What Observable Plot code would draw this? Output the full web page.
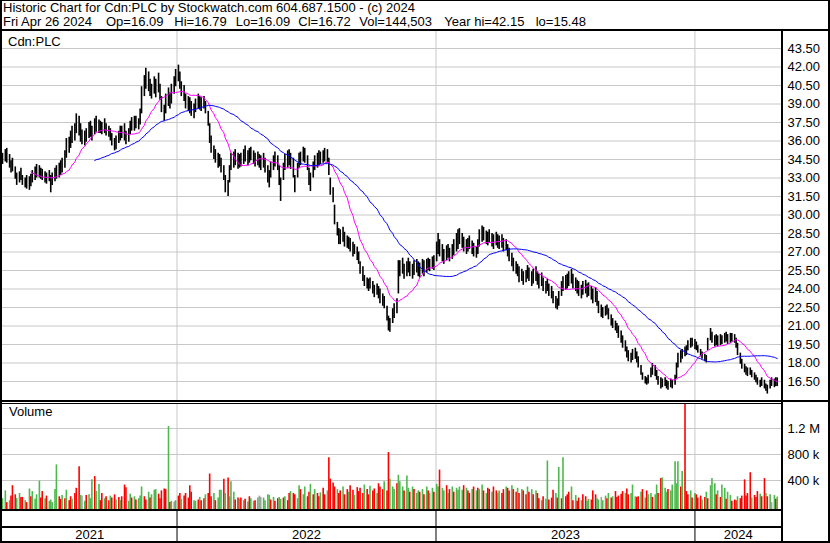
<!DOCTYPE html>
<html><head><meta charset="utf-8">
<script src="https://cdn.jsdelivr.net/npm/d3@7"></script>
<script src="https://cdn.jsdelivr.net/npm/@observablehq/plot@0.6"></script>
<style>
html,body{margin:0;padding:0;background:#fff;}
#wrap{position:relative;width:830px;height:543px;overflow:hidden;background:#fff;font-family:"Liberation Sans",Arial,sans-serif;color:#000;}
.ln{position:absolute;background:#000;}
.t{position:absolute;font-size:13px;line-height:14px;white-space:pre;color:#000;}
.panel{position:absolute;}
.panel svg{display:block;background:transparent;}
</style></head><body>
<div id="wrap">
  <div id="price" class="panel" style="left:2px;top:31px;"></div>
  <div id="vol" class="panel" style="left:2px;top:404px;"></div>
  <div id="years" class="panel" style="left:2px;top:511px;"></div>
  <div id="head"></div>
  <div class="t" id="sym" style="left:8px;top:34.5px;"></div>
  <div class="t" style="left:9px;top:405px;">Volume</div>
  <div class="ln" style="left:0;top:0;width:830px;height:1px"></div>
  <div class="ln" style="left:0;top:541px;width:830px;height:2px"></div>
  <div class="ln" style="left:0;top:0;width:2px;height:543px"></div>
  <div class="ln" style="left:828px;top:0;width:2px;height:543px"></div>
  <div class="ln" style="left:0;top:29px;width:830px;height:2px"></div>
  <div class="ln" style="left:781px;top:29px;width:2px;height:514px"></div>
  <div class="ln" style="left:0;top:400px;width:830px;height:2px"></div>
  <div class="ln" style="left:0;top:403px;width:781px;height:1px"></div>
  <div class="ln" style="left:0;top:509px;width:781px;height:2px"></div>
  <div class="ln" style="left:0;top:526px;width:781px;height:2px"></div>
</div>
<script>
// ---------- header facts ----------
const symbol = "Cdn:PLC";
const titleText = `Historic Chart for ${symbol} by Stockwatch.com 604.687.1500 - (c) 2024`;
const statLabels = ["Fri Apr 26 2024", "Op=16.09", "Hi=16.79", "Lo=16.09", "Cl=16.72", "Vol=144,503", "Year hi=42.15", "lo=15.48"];

// ---------- axis / calendar ----------
const END_DATE = new Date("2024-04-26");
const X_DOMAIN = [new Date("2021-04-30"), new Date("2024-05-02")];
const yearStarts = [new Date("2022-01-01"), new Date("2023-01-01"), new Date("2024-01-01")];
const yearLabels = ["2021", "2022", "2023", "2024"];
const priceTicks = [16.5, 18, 19.5, 21, 22.5, 24, 25.5, 27, 28.5, 30, 31.5, 33, 34.5, 36, 37.5, 39, 40.5, 42, 43.5];
const volTicks = [400000, 800000, 1200000];
const volTickLabels = ["400 k", "800 k", "1.2 M"];

// ---------- price bars: one bar per two trading days (low / high) ----------
const low = [
34.1,34.3,34.2,33.8,33.4,33.5,32.9,32.4,32.6,32.8,
32.4,32.2,32.1,32.0,32.3,32.6,32.8,33.0,33.0,32.9,
32.8,32.6,32.5,32.7,31.8,32.4,32.7,32.9,33.0,33.2,
33.4,33.8,34.6,35.0,35.4,35.8,36.0,36.6,36.4,35.9,
35.7,35.6,35.9,36.2,36.3,36.0,36.5,36.7,36.6,36.6,
36.5,36.6,36.4,36.3,36.0,35.6,35.2,35.3,35.8,36.0,
36.2,36.0,35.7,35.9,36.5,36.8,36.8,37.0,36.9,37.3,
38.2,39.6,40.2,40.0,39.6,39.4,39.8,39.5,39.9,39.3,
38.3,37.6,38.2,38.8,38.6,39.0,39.8,40.4,40.8,40.2,
39.6,39.2,38.6,38.4,38.2,38.0,37.8,38.3,38.6,38.5,
38.4,38.6,38.2,37.2,35.8,35.0,34.5,34.2,33.8,33.9,
33.4,32.8,31.8,31.5,32.6,33.6,33.8,34.0,33.7,33.8,
33.9,34.1,34.3,34.0,34.2,34.4,34.1,33.9,34.0,33.8,
33.6,33.8,33.4,32.6,32.2,33.0,33.6,33.9,33.6,32.4,
31.1,32.8,33.6,33.8,34.0,33.7,33.0,31.8,33.0,33.8,
34.0,34.3,34.2,33.6,32.4,31.9,33.0,33.6,33.8,34.0,
34.1,34.2,34.3,34.2,33.2,31.6,31.0,29.2,28.3,27.6,
27.6,27.8,27.4,27.3,27.2,27.0,26.6,26.8,26.3,26.0,
25.2,24.6,24.2,24.0,23.8,24.0,23.6,23.3,23.5,23.2,
22.8,22.6,22.4,21.4,20.6,20.5,21.2,21.6,22.0,23.6,
25.0,25.2,24.8,25.0,25.3,25.0,24.8,25.1,25.3,25.0,
24.9,25.2,25.0,25.3,25.5,25.4,25.6,25.5,26.2,26.8,
26.6,26.2,26.0,26.3,26.5,26.2,26.4,26.7,27.0,27.2,
27.6,27.3,27.0,26.8,27.0,27.2,26.8,26.6,26.5,26.8,
27.4,27.8,27.9,27.6,27.5,27.7,27.4,27.2,27.5,27.3,
27.2,27.3,27.0,27.1,26.6,26.2,25.8,25.4,25.2,25.0,
24.5,24.6,24.3,24.5,24.8,24.6,24.2,24.4,24.6,24.3,
24.0,24.2,23.8,23.6,23.8,23.4,23.2,22.8,22.4,22.3,
22.6,23.4,23.8,23.9,24.0,24.2,24.4,24.0,23.8,23.6,
23.4,23.2,23.5,23.6,23.3,23.4,23.1,22.8,22.9,22.6,
22.0,21.7,21.6,21.8,21.9,21.5,21.0,20.8,20.6,20.4,
20.0,19.6,19.2,18.9,18.4,18.1,18.0,18.2,18.3,18.0,
17.6,17.0,16.6,16.3,16.2,16.3,16.8,17.0,16.9,16.6,
16.2,15.9,16.0,16.1,15.9,15.8,16.0,15.9,16.2,16.7,
17.6,18.0,18.3,18.5,18.6,19.0,19.2,19.3,19.1,19.0,
18.8,18.5,18.3,18.1,18.0,19.0,19.8,19.6,19.3,19.4,
19.3,19.4,19.5,19.6,19.7,19.5,19.6,19.7,19.6,19.2,
18.6,17.9,17.5,17.2,17.0,16.9,17.0,16.8,16.6,16.4,
16.2,16.0,16.1,15.9,15.7,15.48,15.9,16.1,16.0,16.1,
16.09];
const high = [
35.0,35.3,35.4,34.9,34.4,34.6,33.9,33.4,33.5,33.8,
33.2,33.0,33.2,33.1,33.3,33.6,33.9,34.1,34.0,33.8,
33.7,33.5,33.4,33.6,33.2,33.4,33.8,34.0,34.2,34.4,
34.6,35.2,36.2,36.3,36.8,37.2,37.4,38.2,38.0,37.4,
36.9,36.8,37.0,37.5,37.6,37.2,37.8,38.0,37.7,37.6,
37.5,37.8,37.4,37.2,37.0,36.6,36.2,36.4,36.8,37.2,
37.2,37.4,36.8,37.0,37.6,37.9,38.0,38.0,37.8,38.6,
40.4,41.3,41.9,41.6,41.0,40.6,41.2,41.0,41.5,40.6,
39.6,38.9,39.8,40.3,39.9,40.6,41.2,41.8,42.15,41.6,
40.8,40.5,39.8,39.6,39.5,39.2,39.0,39.4,39.8,39.6,
39.5,39.6,39.2,38.4,37.4,36.4,35.6,35.3,35.0,34.9,
34.6,34.0,33.2,32.8,34.0,35.0,35.1,35.3,35.0,34.9,
35.0,35.3,35.6,35.2,35.4,35.5,35.2,35.0,35.1,34.9,
34.8,35.0,34.6,34.0,33.6,34.3,34.8,35.1,34.8,34.0,
33.0,34.2,34.9,35.2,35.3,35.0,34.6,33.2,34.2,35.0,
35.1,35.5,35.4,34.8,33.8,33.4,34.3,34.8,35.0,35.2,
35.1,35.2,35.4,35.3,34.6,33.0,32.2,30.8,29.4,28.9,
28.8,29.0,28.6,28.3,28.2,28.1,27.8,27.6,27.4,27.0,
26.2,25.8,25.1,24.9,24.8,24.9,24.6,24.3,24.4,24.2,
24.0,23.6,23.4,22.6,21.8,21.6,22.4,22.8,23.2,26.3,
26.3,26.5,26.0,26.2,26.5,26.2,26.0,26.3,26.4,26.2,
26.1,26.4,26.3,26.4,26.5,26.4,26.6,26.7,27.8,28.5,
28.0,27.6,27.2,27.5,27.6,27.3,27.6,28.0,28.5,28.8,
28.9,28.5,28.2,28.0,28.1,28.3,27.9,27.7,27.4,28.0,
28.8,29.1,29.0,28.7,28.6,28.8,28.5,28.4,28.6,28.4,
28.3,28.4,28.1,28.0,27.6,27.3,26.9,26.5,26.2,26.0,
25.8,25.6,25.4,25.5,25.9,25.7,25.4,25.6,25.8,25.4,
25.2,25.3,24.9,24.6,24.8,24.4,24.2,23.8,23.4,23.2,
23.8,24.6,25.0,25.1,25.2,25.4,25.6,25.2,24.9,24.7,
24.6,24.3,24.6,24.7,24.4,24.5,24.2,24.0,24.1,23.8,
23.0,22.7,22.5,22.6,22.7,22.4,21.9,21.6,21.4,21.2,
21.0,20.6,20.2,19.8,19.3,19.0,18.8,19.1,19.2,18.9,
18.5,17.8,17.2,16.9,16.8,17.0,17.6,17.95,17.8,17.4,
16.9,16.8,16.7,16.8,16.6,16.5,16.7,16.6,17.0,18.0,
18.8,19.0,19.1,19.3,19.4,19.8,20.0,20.0,19.9,19.7,
19.4,19.1,18.9,18.7,18.6,20.0,20.8,20.5,20.2,20.3,
20.2,20.3,20.2,20.4,20.5,20.3,20.4,20.4,20.3,20.0,
19.6,18.8,18.3,17.9,17.7,17.6,17.6,17.4,17.2,17.0,
16.8,16.6,16.8,16.6,16.3,16.2,16.6,16.8,16.7,16.8,
16.79];

// ---------- volume (thousands of shares) per bar, and its direction g=up r=down n=unchanged ----------
const volumeK = [
120,240,60,90,160,320,180,120,200,140,
140,90,60,270,150,230,110,180,390,130,
230,120,160,80,100,60,260,640,150,110,
170,120,250,90,150,110,200,280,610,170,
160,80,170,180,120,410,460,230,340,90,
200,120,150,90,160,130,180,100,140,90,
150,330,290,80,190,130,150,100,120,160,
300,150,100,220,130,180,250,260,190,120,
240,270,260,1230,60,80,70,90,160,200,
110,160,200,130,320,220,90,80,100,140,
90,120,180,200,500,150,200,90,130,250,
250,420,200,440,150,380,220,100,130,110,
130,90,110,70,150,120,80,90,130,160,
140,130,90,180,170,100,140,80,120,140,
110,130,150,90,200,230,200,180,120,320,
260,180,300,150,220,340,180,260,200,150,
210,280,180,240,750,420,360,300,260,200,
240,300,180,260,220,320,250,170,290,230,
280,200,330,260,180,310,240,270,200,350,
300,260,380,240,830,420,300,260,350,480,
380,300,240,470,280,220,300,260,200,240,
220,260,180,300,240,200,280,220,340,300,
560,280,240,320,200,260,300,220,280,250,
300,250,320,280,240,200,260,300,240,280,
260,330,240,200,280,260,220,300,240,200,
240,200,260,300,280,240,320,260,220,280,
200,260,240,180,300,220,260,180,240,200,
120,90,150,110,700,100,130,250,200,130,
600,120,750,150,180,220,300,90,170,80,
130,90,180,150,80,110,100,240,180,120,
100,140,90,160,120,200,130,150,230,140,
160,190,230,200,270,180,200,330,150,140,
150,220,260,130,240,180,200,140,180,330,
200,430,440,280,220,260,240,330,690,350,
690,300,540,1700,230,180,240,130,200,180,
130,160,100,140,220,120,320,430,350,180,
240,140,330,280,110,220,170,80,100,90,
150,120,160,410,160,200,520,130,170,140,
230,190,150,430,200,150,180,60,170,110,
145];
const volDir = [
"ggrgrrrggr","rgrgrggggr","rgrgggggrr","grgrrgrrrg","ngrgggrggr",
"rgrrgrrgrg","rrrggrgrgg","grrgrgggrr","rrrgrgngrr","grrrrrggrg",
"rrgrrrgrgg","grgrgggrrg","rgrgrggrgn","nggggrgrrg","grgrrgrrgg",
"rggrrgrgrr","grrgrrrrgr","rgrrgrrgrr","rrgrrgrrgr","rrgrrgggrg",
"ggrggrgrgg","rgrgrggrgg","rggrgrgrgg","ggrgrrgrgr","ggrgrrgrrg",
"grrgrrgrrg","rgrrgrgrgr","rgrggrrrgr","grgrrrgrgr","rgrrggrrrg",
"gnggrgrgrr","rrrgrrgggr","rgrgrggrgg","rrgggrgggg","grgrrrgrgr",
"rrgrgrgggr","grggrggrrr","grrrrrrgrr","rgrrgrgngr","g"].join("");

// ---------- build ----------
const FONT = '"Liberation Sans", Arial, sans-serif';
const BAR_STEP = 2; // trading days per bar
function barDates(n) {
  const out = [];
  const d = new Date(END_DATE);
  for (let i = 0; i < n; i++) {
    out.push(new Date(d));
    let k = 0;
    while (k < BAR_STEP) {
      d.setUTCDate(d.getUTCDate() - 1);
      const w = d.getUTCDay();
      if (w !== 0 && w !== 6) k++;
    }
  }
  return out.reverse();
}
function movingAvg(vals, k) {
  return vals.map((_, i) => i < k - 1 ? NaN : d3.mean(vals.slice(i - k + 1, i + 1)));
}
const n = high.length;
const dates = barDates(n);
const mid = high.map((h, i) => (h + low[i]) / 2);
const maFast = movingAvg(mid, 15);
const maSlow = movingAvg(mid, 47);
const bars = dates.map((date, i) => ({
  date, hi: high[i], lo: low[i], vol: volumeK[i] * 1000, dir: volDir[i], ma1: maFast[i], ma2: maSlow[i]
}));
const DIR_COLOR = {g: "#4db84d", r: "#ff0000", n: "#a0a0a0"};
const GRID = "#c8c8c8";
const VOL_FLOOR = -80000;

// header: title line and stats placed in their columns
const head = document.getElementById("head");
function addText(txt, left, top) {
  const el = document.createElement("div");
  el.className = "t";
  el.textContent = txt;
  el.style.left = left + "px";
  el.style.top = top + "px";
  head.appendChild(el);
  return el;
}
addText(titleText, 3, 0.5);
const statLeft = [3, 106, 174.3, 235.7, 298.3, 359.3, 444.3, 535.7];
statLabels.forEach((s, i) => addText(s, statLeft[i], 15));
document.getElementById("sym").textContent = symbol;

const common = {
  marginLeft: 0, marginTop: 0, marginBottom: 0,
  style: {fontFamily: FONT, fontSize: "13px", background: "transparent", color: "#000", overflow: "visible"}
};

const price = Plot.plot({
  ...common,
  width: 826, height: 369, marginRight: 47,
  x: {type: "utc", domain: X_DOMAIN, range: [0, 779], axis: null},
  y: {domain: [16.5, 43.5], range: [350, 17]},
  marks: [
    Plot.ruleY(priceTicks, {stroke: GRID, strokeOpacity: 1}),
    Plot.ruleX(yearStarts, {stroke: GRID, strokeOpacity: 1}),
    Plot.ruleX(bars, {x: "date", y1: "lo", y2: "hi", stroke: "#000", strokeWidth: 1.6}),
    Plot.line(bars, {x: "date", y: "ma1", stroke: "#ff00ff", strokeWidth: 1}),
    Plot.line(bars, {x: "date", y: "ma2", stroke: "#0000ff", strokeWidth: 1}),
    Plot.axisY(priceTicks, {anchor: "right", tickSize: 0, tickPadding: 6, tickFormat: d3.format(".2f"), label: null, fill: "#000", fontSize: 13})
  ]
});
document.getElementById("price").appendChild(price);

const vol = Plot.plot({
  ...common,
  width: 826, height: 105, marginRight: 47,
  x: {type: "utc", domain: X_DOMAIN, range: [0, 779], axis: null},
  y: {domain: [0, 1200000], range: [102, 24]},
  color: {type: "identity"},
  marks: [
    Plot.ruleY(volTicks, {stroke: GRID, strokeOpacity: 1}),
    Plot.ruleX(yearStarts, {stroke: GRID, strokeOpacity: 1}),
    Plot.ruleX(bars, {x: "date", y1: () => VOL_FLOOR, y2: "vol", stroke: d => DIR_COLOR[d.dir], strokeWidth: 1.6, clip: true}),
    Plot.axisY(volTicks, {anchor: "right", tickSize: 0, tickPadding: 6, tickFormat: d => volTickLabels[volTicks.indexOf(d)], label: null, fill: "#000", fontSize: 13})
  ]
});
document.getElementById("vol").appendChild(vol);

const bounds = [X_DOMAIN[0], ...yearStarts, X_DOMAIN[1]];
const yearMid = yearLabels.map((label, i) => ({label, date: new Date((+bounds[i] + +bounds[i + 1]) / 2)}));
const years = Plot.plot({
  ...common,
  width: 779, height: 30, marginRight: 0,
  x: {type: "utc", domain: X_DOMAIN, range: [0, 779], axis: null},
  marks: [
    Plot.ruleX(yearStarts, {stroke: "#000", strokeOpacity: 1}),
    Plot.text(yearMid, {x: "date", text: "label", dy: 8.5, fontSize: 13, fill: "#000"})
  ]
});
document.getElementById("years").appendChild(years);
</script>
</body></html>
